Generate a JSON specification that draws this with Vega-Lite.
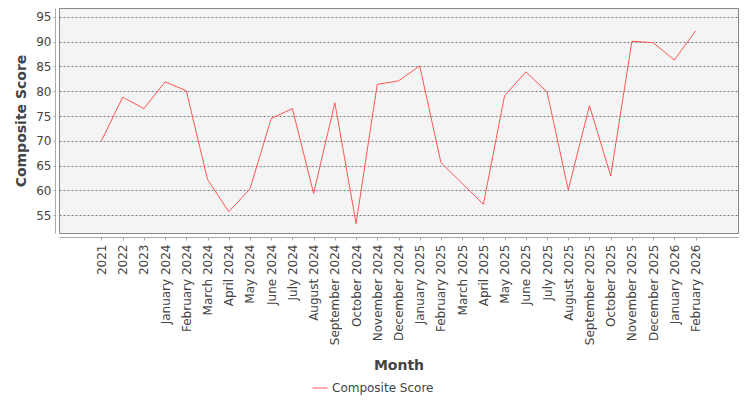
{
  "$schema": "https://vega.github.io/schema/vega-lite/v6.json",
  "width": 679,
  "height": 225,
  "autosize": {"type": "none"},
  "padding": {"left": 59, "top": 8, "right": 12, "bottom": 167},
  "background": "white",
  "config": {
    "font": "DejaVu Sans",
    "view": {"fill": "#f4f4f4", "stroke": "#888888", "strokeWidth": 1}
  },
  "data": {
    "values": [
      {"month": "2021", "score": 70.0},
      {"month": "2022", "score": 78.8},
      {"month": "2023", "score": 76.5},
      {"month": "January 2024", "score": 81.9},
      {"month": "February 2024", "score": 80.1},
      {"month": "March 2024", "score": 62.2},
      {"month": "April 2024", "score": 55.7},
      {"month": "May 2024", "score": 60.3},
      {"month": "June 2024", "score": 74.5},
      {"month": "July 2024", "score": 76.5},
      {"month": "August 2024", "score": 59.4},
      {"month": "September 2024", "score": 77.7},
      {"month": "October 2024", "score": 53.3},
      {"month": "November 2024", "score": 81.4},
      {"month": "December 2024", "score": 82.1},
      {"month": "January 2025", "score": 85.1},
      {"month": "February 2025", "score": 65.6},
      {"month": "March 2025", "score": 61.4},
      {"month": "April 2025", "score": 57.2},
      {"month": "May 2025", "score": 79.1},
      {"month": "June 2025", "score": 83.9},
      {"month": "July 2025", "score": 79.9},
      {"month": "August 2025", "score": 60.1},
      {"month": "September 2025", "score": 77.1},
      {"month": "October 2025", "score": 62.9},
      {"month": "November 2025", "score": 90.1},
      {"month": "December 2025", "score": 89.8},
      {"month": "January 2026", "score": 86.3},
      {"month": "February 2026", "score": 92.2}
    ]
  },
  "mark": {"type": "line", "strokeWidth": 1},
  "encoding": {
    "x": {
      "field": "month",
      "type": "ordinal",
      "sort": null,
      "scale": {
        "type": "point",
        "padding": 0,
        "domain": ["_pad1", "_pad2", "2021", "2022", "2023", "January 2024", "February 2024", "March 2024", "April 2024", "May 2024", "June 2024", "July 2024", "August 2024", "September 2024", "October 2024", "November 2024", "December 2024", "January 2025", "February 2025", "March 2025", "April 2025", "May 2025", "June 2025", "July 2025", "August 2025", "September 2025", "October 2025", "November 2025", "December 2025", "January 2026", "February 2026", "_pad3", "_pad4"]
      },
      "axis": {
        "values": ["2021", "2022", "2023", "January 2024", "February 2024", "March 2024", "April 2024", "May 2024", "June 2024", "July 2024", "August 2024", "September 2024", "October 2024", "November 2024", "December 2024", "January 2025", "February 2025", "March 2025", "April 2025", "May 2025", "June 2025", "July 2025", "August 2025", "September 2025", "October 2025", "November 2025", "December 2025", "January 2026", "February 2026"],
        "title": "Month",
        "titleFontSize": 14,
        "titleFontWeight": "bold",
        "titleColor": "#444444",
        "titlePadding": 14,
        "labelAngle": -90,
        "labelFontSize": 12,
        "labelColor": "#444444",
        "labelPadding": 4,
        "offset": 4,
        "tickSize": 3,
        "tickColor": "#aaaaaa",
        "domainColor": "#aaaaaa",
        "grid": false
      }
    },
    "y": {
      "field": "score",
      "type": "quantitative",
      "scale": {"domain": [51.4, 96.8], "nice": false, "zero": false},
      "axis": {
        "title": "Composite Score",
        "titleFontSize": 14,
        "titleFontWeight": "bold",
        "titleColor": "#444444",
        "titlePadding": 7,
        "values": [55, 60, 65, 70, 75, 80, 85, 90, 95],
        "labelFontSize": 12,
        "labelColor": "#444444",
        "labelPadding": 2,
        "offset": 4,
        "tickSize": 2,
        "tickColor": "#aaaaaa",
        "domainColor": "#aaaaaa",
        "grid": true,
        "gridColor": "#777777",
        "gridDash": [2, 2],
        "gridWidth": 1
      }
    },
    "color": {
      "datum": "Composite Score",
      "type": "nominal",
      "scale": {"range": ["#ff5555"]},
      "legend": {
        "title": null,
        "orient": "none",
        "legendX": 253,
        "legendY": 372,
        "labelFontSize": 12,
        "labelColor": "#444444",
        "symbolType": "stroke",
        "symbolSize": 225,
        "symbolStrokeWidth": 1
      }
    }
  }
}
